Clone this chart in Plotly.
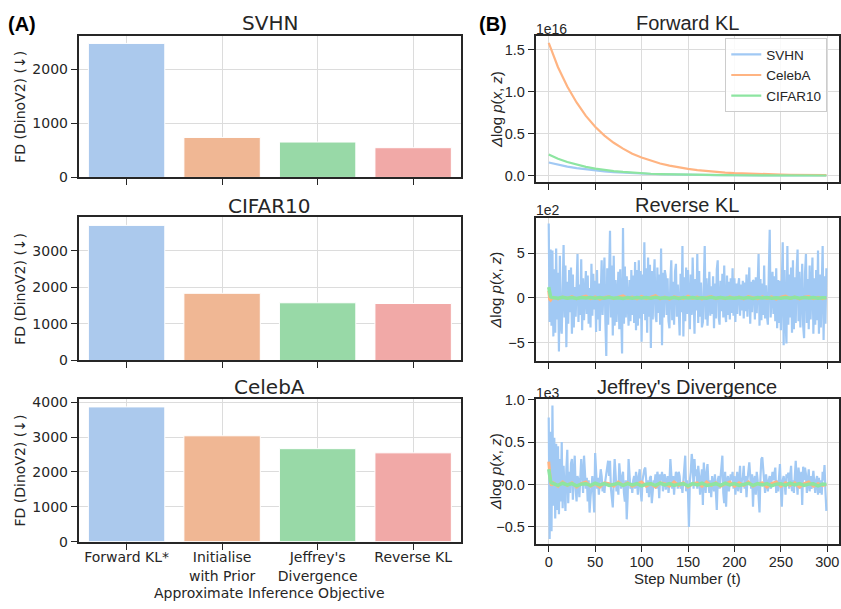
import plotly.graph_objects as go

# ---------------- data ----------------
categories = ["Forward KL*", "Initialise<br>with Prior", "Jeffrey's<br>Divergence", "Reverse KL"]
fd_svhn = [2480, 740, 655, 550]
fd_cifar10 = [3700, 1840, 1580, 1560]
fd_celeba = [3870, 3040, 2670, 2550]
bar_colors = ["#abc9ed", "#f0b794", "#98d9a7", "#f1a9a7"]

# Forward KL (units of 1e16), sampled every 10 steps
fwd_steps = list(range(0, 300, 10)) + [299]
fwd_svhn = [0.155, 0.127, 0.105, 0.087, 0.072, 0.060, 0.049, 0.040, 0.033, 0.027,
            0.022, 0.018, 0.015, 0.012, 0.010, 0.008, 0.007, 0.006, 0.005, 0.004,
            0.003, 0.003, 0.002, 0.002, 0.002, 0.001, 0.001, 0.001, 0.001, 0.0, 0.0]
fwd_celeba = [1.58, 1.29, 1.06, 0.87, 0.71, 0.58, 0.475, 0.39, 0.32, 0.26,
              0.214, 0.175, 0.143, 0.117, 0.096, 0.079, 0.065, 0.053, 0.043, 0.035,
              0.029, 0.024, 0.019, 0.016, 0.013, 0.011, 0.009, 0.007, 0.006, 0.005, 0.004]
fwd_cifar10 = [0.25, 0.200, 0.160, 0.128, 0.102, 0.082, 0.065, 0.052, 0.042, 0.033,
               0.027, 0.021, 0.017, 0.014, 0.011, 0.009, 0.007, 0.006, 0.005, 0.004,
               0.003, 0.003, 0.002, 0.002, 0.001, 0.001, 0.001, 0.001, 0.0, 0.0, 0.0]

# Reverse KL SVHN (units of 1e2), every step
steps = list(range(300))
rev_svhn = [
    8.3, -2.7, 5.4, -3.1, 5.3, -4.3, 3.2, -3.9, 5.5, -2.4,
    2.8, -6.0, 4.7, -3.0, -4.0, 2.1, 5.9, -2.2, 3.6, -5.5,
    1.8, -2.9, 3.1, -1.6, 3.4, -4.0, 2.6, -3.3, 1.2, -2.1,
    2.9, 4.9, -2.7, 1.5, -1.9, 4.3, -3.6, 2.2, -2.5, 1.4,
    3.0, -1.8, 2.5, -2.9, 1.1, -3.3, 3.8, -2.0, 2.7, -1.3,
    1.9, -3.8, 3.1, -2.4, 1.6, -3.7, 2.3, 4.2, -1.9, 2.8,
    4.5, -2.6, -6.5, 3.3, -3.0, 2.1, 7.5, -2.2, 3.6, -4.2,
    4.7, -3.1, 2.0, -2.7, 1.4, 2.9, -3.5, 3.2, -1.8, -6.2,
    7.8, -2.9, 3.5, -2.2, 2.4, -1.5, -3.1, 2.0, -2.6, 3.1,
    -1.9, 2.5, -2.8, 4.0, -3.6, 3.1, -3.1, 4.2, -2.3, 3.0,
    -4.9, 2.6, -1.8, 6.2, -2.5, 3.3, -3.9, 4.5, -2.1, 3.7,
    -5.6, 3.0, -2.4, 1.9, 4.3, -2.0, -2.7, 3.4, -1.7, 2.6,
    -3.0, 5.5, -5.3, 2.8, -2.2, 3.1, 2.4, -1.9, 2.2, -2.6,
    -3.4, 2.0, 4.2, -2.5, 1.8, -3.0, 2.9, 3.8, -2.1, 1.5,
    -2.9, -4.2, 2.7, -1.6, 5.8, -4.3, 2.3, -2.6, 3.4, -1.8,
    3.1, -2.4, -3.5, 2.6, -1.9, 4.5, -2.2, -4.0, 2.1, -1.4,
    4.9, -2.8, 3.0, -2.1, 1.7, -3.3, -2.7, 3.6, 5.8, -2.4,
    2.2, -3.1, 1.5, 2.9, -2.0, 1.3, -1.8, 2.4, -3.4, 1.6,
    -2.3, 3.2, 4.2, -2.1, -3.0, 1.9, -1.5, 2.7, -2.2, 3.6,
    -1.6, -2.7, 2.5, -1.9, 1.8, -2.4, 2.2, -1.7, 3.3, -2.0,
    2.2, -2.7, 1.6, -1.8, 1.3, 2.2, -2.0, 1.5, -1.4, 1.9,
    -2.3, 1.7, -1.5, 2.6, -2.1, 1.4, 3.4, -2.9, 1.8, -1.6,
    2.0, 1.8, -2.4, 2.3, -1.7, 1.5, 4.9, -3.1, 2.1, -2.5,
    1.6, -1.9, 3.6, -2.3, 1.4, -2.0, -3.0, 2.8, 7.6, -2.2,
    1.7, 2.9, -1.8, 2.4, -2.6, 3.3, -3.4, 2.0, -2.8, 1.9,
    -3.6, 2.5, 6.2, -5.3, 3.1, -2.4, -5.1, 5.8, -3.0, 2.6,
    -2.2, 3.4, -3.9, 4.2, -3.5, 2.3, -2.8, 3.0, 5.4, -2.6,
    2.9, -3.3, 2.4, 3.8, -3.1, -4.5, 2.7, 4.9, -2.8, 2.1,
    -3.5, 3.6, -2.4, 2.8, 4.5, -4.0, 2.2, -3.0, 3.1, -2.5,
    5.3, -4.0, 2.6, -3.3, 3.7, 5.8, -4.7, 2.4, -2.9, 3.3]

# near-zero series, sampled sparser
small_steps = [0, 1, 2, 3] + list(range(5, 300, 5)) + [299]
rev_celeba = [0.8, -0.15, -0.25, -0.1,
              0.05, -0.12, 0.1, -0.05, 0.15, -0.1, 0.05, 0.2, -0.08, 0.1,
              -0.15, 0.05, 0.12, -0.1, 0.08, 0.22, -0.05, 0.1, -0.12, 0.15,
              -0.08, 0.05, 0.25, -0.1, 0.08, -0.15, 0.12, 0.03, -0.1, 0.18,
              -0.05, 0.1, -0.12, 0.05, 0.14, -0.08, 0.06, -0.1, 0.12, -0.05,
              0.08, -0.12, 0.15, 0.02, -0.1, 0.12, -0.06, 0.1, -0.15, 0.08,
              0.2, -0.05, 0.1, -0.12, 0.06, 0.15, -0.08, 0.05, -0.1,
              0.04]
rev_cifar10 = [1.2, 0.4, 0.15, 0.05,
               0.02, -0.05, 0.06, -0.03, 0.04, -0.06, 0.05, -0.02, 0.03, -0.05,
               0.04, -0.03, 0.06, -0.04, 0.02, -0.06, 0.05, -0.03, 0.04, -0.02,
               0.03, -0.05, 0.06, -0.04, 0.02, -0.03, 0.05, -0.06, 0.03, -0.02,
               0.04, -0.05, 0.02, -0.03, 0.06, -0.04, 0.03, -0.05, 0.02, -0.03,
               0.05, -0.04, 0.03, -0.06, 0.04, -0.02, 0.05, -0.03, 0.02, -0.05,
               0.04, -0.03, 0.06, -0.04, 0.03, -0.02, 0.05, -0.04, 0.02,
               0.01]

# Jeffrey's divergence SVHN (units of 1e3), every step
jef_svhn = [
    0.79, -0.64, 0.62, -0.55, 0.93, -0.25, 0.55, -0.40, 0.48, -0.30,
    0.45, -0.35, 0.30, -0.20, 0.50, -0.28, 0.22, -0.15, -0.31, 0.18,
    0.41, -0.22, 0.15, -0.10, 0.25, 0.30, -0.18, 0.12, 0.34, -0.05,
    -0.20, 0.10, 0.05, -0.15, 0.20, 0.30, 0.12, -0.10, 0.34, 0.15,
    -0.05, 0.08, -0.20, 0.05, -0.33, -0.15, 0.02, 0.10, -0.10, -0.33,
    0.37, 0.15, -0.05, 0.08, -0.12, 0.05, 0.18, 0.10, -0.08, 0.02,
    -0.10, 0.05, 0.15, 0.20, 0.28, 0.10, 0.28, -0.05, -0.15, -0.27,
    0.05, 0.30, 0.12, -0.08, 0.02, -0.12, 0.25, 0.10, -0.05, 0.08,
    0.15, -0.10, -0.20, 0.05, -0.41, -0.15, 0.30, 0.12, -0.05, 0.02,
    -0.10, 0.05, 0.10, -0.05, 0.15, 0.05, -0.12, 0.10, 0.18, -0.08,
    -0.20, 0.05, 0.12, 0.18, 0.20, 0.02, -0.10, 0.05, -0.15, 0.08,
    0.10, -0.22, -0.12, 0.05, 0.02, 0.12, -0.05, 0.15, 0.08, -0.16,
    0.12, 0.05, 0.15, -0.08, 0.10, 0.12, -0.06, 0.05, 0.10, -0.10,
    0.02, 0.30, 0.08, -0.05, 0.10, -0.12, 0.05, 0.15, 0.12, -0.05,
    0.15, 0.10, -0.05, 0.02, -0.10, 0.08, 0.12, 0.34, -0.08, 0.05,
    -0.10, -0.50, 0.05, 0.15, 0.36, 0.25, -0.05, 0.30, 0.10, 0.18,
    -0.05, 0.22, 0.10, -0.12, 0.05, 0.18, -0.24, 0.26, 0.08, -0.10,
    0.15, 0.24, 0.02, -0.10, 0.05, -0.15, 0.10, 0.02, -0.08, 0.12,
    -0.15, -0.30, 0.05, 0.10, -0.05, 0.12, 0.20, 0.34, -0.10, -0.22,
    0.15, -0.26, 0.05, 0.10, -0.08, 0.02, 0.12, 0.05, 0.15, -0.05,
    0.10, -0.12, 0.05, 0.15, -0.08, 0.02, 0.22, -0.10, 0.05, 0.08,
    0.22, -0.05, 0.10, -0.15, 0.05, 0.18, 0.26, 0.10, -0.05, 0.12,
    -0.26, 0.05, 0.10, -0.12, 0.15, 0.05, -0.10, -0.33, 0.08, 0.30,
    0.32, 0.15, 0.05, -0.10, 0.12, 0.02, -0.08, 0.05, 0.10, -0.05,
    0.08, 0.15, 0.05, 0.12, 0.20, -0.10, 0.05, -0.08, 0.12, 0.24,
    -0.08, -0.26, 0.05, 0.10, 0.02, -0.12, 0.12, 0.08, 0.14, -0.05,
    0.10, 0.22, -0.08, 0.05, -0.10, 0.15, 0.28, 0.05, -0.12, 0.20,
    0.10, -0.05, 0.15, -0.24, 0.21, 0.05, 0.20, 0.12, -0.10, 0.05,
    0.18, -0.08, 0.10, -0.05, 0.12, 0.16, 0.02, -0.10, 0.05, 0.10,
    -0.12, 0.08, -0.10, 0.05, -0.12, 0.15, 0.05, 0.23, -0.08, -0.31]
jef_celeba = [0.27, 0.1, 0.02, -0.01,
              0.02, -0.02, 0.03, -0.01, 0.02, -0.03, 0.01, 0.03, -0.02, 0.01,
              -0.03, 0.02, 0.01, -0.02, 0.03, -0.01, 0.02, -0.02, 0.01, 0.03,
              -0.02, 0.01, -0.03, 0.02, 0.01, -0.02, 0.03, -0.01, 0.02, -0.03,
              0.01, 0.02, -0.02, 0.03, -0.01, 0.02, -0.02, 0.01, 0.03, -0.02,
              0.02, -0.01, 0.03, -0.02, 0.01, 0.02, -0.03, 0.01, 0.03, -0.02,
              0.02, -0.01, 0.02, -0.03, 0.01, 0.03, -0.02, 0.01, -0.01,
              0.0]
jef_cifar10 = [0.18, 0.08, 0.04, 0.02,
               0.01, -0.01, 0.015, -0.005, 0.01, -0.015, 0.005, 0.01, -0.01, 0.015,
               -0.005, 0.01, -0.01, 0.005, 0.015, -0.01, 0.01, -0.005, 0.01, -0.015,
               0.005, 0.01, -0.01, 0.015, -0.005, 0.01, -0.01, 0.005, 0.01, -0.015,
               0.01, -0.005, 0.015, -0.01, 0.005, 0.01, -0.01, 0.015, -0.005, 0.01,
               -0.01, 0.005, 0.015, -0.01, 0.01, -0.005, 0.01, -0.015, 0.005, 0.01,
               -0.01, 0.015, -0.005, 0.01, -0.01, 0.005, 0.01, -0.015, 0.005,
               0.0]

line_colors = {"SVHN": "#a1c9f4", "CelebA": "#ffb482", "CIFAR10": "#8de5a1"}

# ---------------- layout helpers ----------------
W, H = 841, 609
def px_x(p):
    return p / W
def px_y(p):
    return 1 - p / H

DARK = "#262626"
GRID = "#dcdcdc"
LEFT_FONT = "DejaVu Sans"
RIGHT_FONT = "Liberation Sans, Arial"

fig = go.Figure()

# bars
for i, vals in enumerate([fd_svhn, fd_cifar10, fd_celeba]):
    ax = "" if i == 0 else str(i + 1)
    fig.add_trace(go.Bar(x=categories, y=vals, marker=dict(color=bar_colors,
                  line=dict(color="white", width=1)), width=0.8,
                  xaxis="x" + ax, yaxis="y" + ax, showlegend=False))

# forward KL
fig.add_trace(go.Scatter(x=fwd_steps, y=fwd_svhn, mode="lines", name="SVHN",
                         line=dict(color=line_colors["SVHN"], width=2.2), xaxis="x4", yaxis="y4"))
fig.add_trace(go.Scatter(x=fwd_steps, y=fwd_celeba, mode="lines", name="CelebA",
                         line=dict(color=line_colors["CelebA"], width=2.2), xaxis="x4", yaxis="y4"))
fig.add_trace(go.Scatter(x=fwd_steps, y=fwd_cifar10, mode="lines", name="CIFAR10",
                         line=dict(color=line_colors["CIFAR10"], width=2.2), xaxis="x4", yaxis="y4"))

# reverse KL
fig.add_trace(go.Scatter(x=steps, y=rev_svhn, mode="lines", showlegend=False,
                         line=dict(color=line_colors["SVHN"], width=2.2), xaxis="x5", yaxis="y5"))
fig.add_trace(go.Scatter(x=small_steps, y=rev_celeba, mode="lines", showlegend=False,
                         line=dict(color=line_colors["CelebA"], width=3), xaxis="x5", yaxis="y5"))
fig.add_trace(go.Scatter(x=small_steps, y=rev_cifar10, mode="lines", showlegend=False,
                         line=dict(color=line_colors["CIFAR10"], width=3.5), xaxis="x5", yaxis="y5"))

# Jeffrey's
fig.add_trace(go.Scatter(x=steps, y=jef_svhn, mode="lines", showlegend=False,
                         line=dict(color=line_colors["SVHN"], width=2.2), xaxis="x6", yaxis="y6"))
fig.add_trace(go.Scatter(x=small_steps, y=jef_celeba, mode="lines", showlegend=False,
                         line=dict(color=line_colors["CelebA"], width=3), xaxis="x6", yaxis="y6"))
fig.add_trace(go.Scatter(x=small_steps, y=jef_cifar10, mode="lines", showlegend=False,
                         line=dict(color=line_colors["CIFAR10"], width=3.5), xaxis="x6", yaxis="y6"))

common = dict(showline=True, linecolor=DARK, linewidth=2, mirror=True,
              ticks="outside", ticklen=6, tickwidth=1.3, tickcolor=DARK,
              showgrid=True, gridcolor=GRID, gridwidth=1.2, zeroline=False)

left_dom = [px_x(79), px_x(462)]
right_dom = [px_x(537), 1.0]
left_rows = [(29, 174), (215, 362), (402, 548)]
right_rows = [(29, 179), (216, 363), (402, 550)]
left_ranges = [[0, 2613], [0, 3920], [0, 4085]]
left_ticks = [[0, 1000, 2000], [0, 1000, 2000, 3000], [0, 1000, 2000, 3000, 4000]]
right_ranges = [[-0.081, 1.659], [-7.1, 8.88], [-0.695, 1.002]]
right_ticks = [[0, 0.5, 1.0, 1.5], [-5, 0, 5], [-0.5, 0, 0.5, 1.0]]
right_fmt = [".1f", "d", ".1f"]

lay = {}
for i in range(3):
    k = "" if i == 0 else str(i + 1)
    lay["xaxis" + k] = dict(common, domain=left_dom, anchor="y" + k, range=[-0.5, 3.5],
                            type="category", showticklabels=(i == 2),
                            ticklabelstandoff=-4,
                            tickfont=dict(family=LEFT_FONT, size=14, color=DARK))
    lay["yaxis" + k] = dict(common, domain=[px_y(left_rows[i][1]), px_y(left_rows[i][0])],
                            anchor="x" + k, range=left_ranges[i], tickvals=left_ticks[i],
                            tickfont=dict(family=LEFT_FONT, size=14, color=DARK))
    kk = str(i + 4)
    lay["xaxis" + kk] = dict(common, domain=right_dom, anchor="y" + kk, range=[-14, 312.6],
                             tickvals=[0, 50, 100, 150, 200, 250, 300], showticklabels=(i == 2),
                             ticklabelstandoff=-2,
                             tickfont=dict(family=RIGHT_FONT, size=14.5, color=DARK))
    lay["yaxis" + kk] = dict(common, domain=[px_y(right_rows[i][1]), px_y(right_rows[i][0])],
                             anchor="x" + kk, range=right_ranges[i], tickvals=right_ticks[i],
                             tickformat=right_fmt[i],
                             tickfont=dict(family=RIGHT_FONT, size=14.5, color=DARK))

annotations = []
def ann(text, x, y, size, family, xanchor="center", angle=0, bold=False):
    if bold:
        text = "<b>" + text + "</b>"
    annotations.append(dict(text=text, x=px_x(x), y=px_y(y), xref="paper", yref="paper",
                            xanchor=xanchor, yanchor="middle", showarrow=False, textangle=angle,
                            borderpad=0,
                            font=dict(family=family, size=size, color=DARK if not bold else "black")))

ann("(A)", 7, 16, 20, RIGHT_FONT, xanchor="left", bold=True)
ann("(B)", 479, 16, 20, RIGHT_FONT, xanchor="left", bold=True)
for t, yy in zip(["SVHN", "CIFAR10", "CelebA"], [15, 203, 389]):
    ann(t, 270.5, yy, 20, LEFT_FONT)
for t, yy in zip(["Forward KL", "Reverse KL", "Jeffrey's Divergence"], [15, 202, 389]):
    ann(t, 689, yy, 20, RIGHT_FONT)
for r in left_rows:
    ann("FD (DinoV2) (↓)", 20, (r[0] + r[1]) / 2, 14, LEFT_FONT, angle=-90)
for r in right_rows:
    ann("<i>Δ</i>log <i>p</i>(<i>x</i>, <i>z</i>)", 497, (r[0] + r[1]) / 2, 15, RIGHT_FONT, angle=-90)
for t, yy in zip(["1e16", "1e2", "1e3"], [22, 207, 395]):
    ann(t, 536, yy, 14, RIGHT_FONT, xanchor="left")
ann("Approximate Inference Objective", 270.5, 601, 14, LEFT_FONT)
ann("Step Number (t)", 689, 586, 15, RIGHT_FONT)

fig.update_layout(
    width=W, height=H, margin=dict(l=0, r=0, t=0, b=0),
    paper_bgcolor="white", plot_bgcolor="white",
    bargap=0.2,
    legend=dict(x=px_x(727), y=px_y(31), xanchor="left", yanchor="top",
                bgcolor="rgba(255,255,255,0.85)", bordercolor="#cccccc", borderwidth=1,
                font=dict(family=RIGHT_FONT, size=13.5, color=DARK), itemwidth=30,
                tracegroupgap=0),
    annotations=annotations,
    **lay,
)

fig.write_html("out.html")
